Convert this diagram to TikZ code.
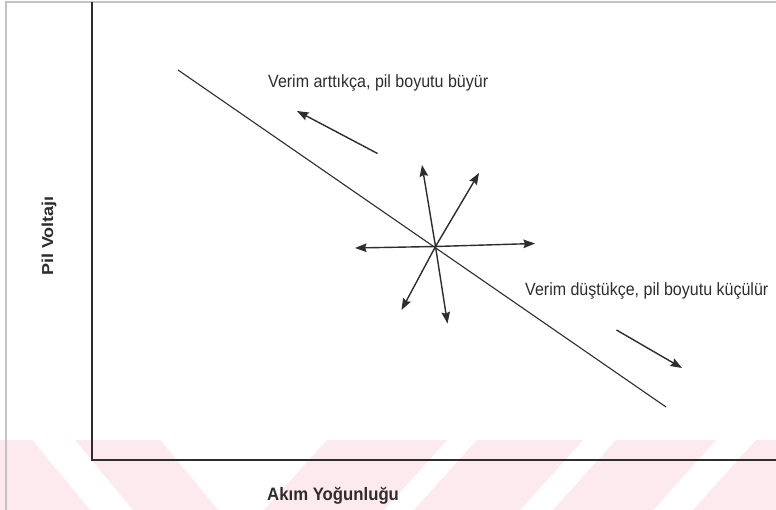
\documentclass[tikz,border=0pt]{standalone}
\usepackage{fontspec}
\setmainfont{Liberation Sans}
\usepackage{graphicx}
\usetikzlibrary{arrows.meta}
\definecolor{wmpink}{RGB}{253,234,238}
\definecolor{framegray}{RGB}{195,195,195}
\definecolor{ink}{RGB}{45,45,45}
\tikzset{
  wm/.style={fill=wmpink, draw=none},
  axisline/.style={draw=ink, line width=1.5pt},
  curveline/.style={draw=ink, line width=1.1pt},
  arr/.style={draw=ink, line width=1.4pt, -{Stealth[length=11.5pt,width=8.5pt,inset=1.5pt]}},
  lbl/.style={inner sep=0pt, anchor=base west, text=ink, font=\fontsize{17.7}{20}\selectfont},
  axlbl/.style={inner sep=0pt, text=ink, font=\bfseries\fontsize{18}{21}\selectfont}
}
\begin{document}
\begin{tikzpicture}[x=1pt,y=-1pt]
\useasboundingbox (0,0) rectangle (776,510);
\fill[white] (0,0) rectangle (776,510);
% watermark stripes
\path[wm] (0,440) -- (32,440) -- (90,510) -- (0,510) -- cycle;
\path[wm] (75,440) -- (160,440) -- (218,510) -- (133,510) -- cycle;
\path[wm] (327,440) -- (447,440) -- (384,510) -- (264,510) -- cycle;
\path[wm] (477,440) -- (583,440) -- (520,510) -- (414,510) -- cycle;
\path[wm] (616,440) -- (716,440) -- (653,510) -- (553,510) -- cycle;
\path[wm] (756,440) -- (776,440) -- (776,510) -- (693,510) -- cycle;
% outer frame
\coordinate (fbl) at (6,510);
\coordinate (ftl) at (6,2);
\coordinate (ftr) at (776,2);
\draw[framegray, line width=1.2pt] (fbl) -- (ftl) -- (ftr);
% axes
\coordinate (ytop) at (92,2);
\coordinate (orig) at (92,460);
\coordinate (xend) at (776,460);
\draw[axisline] (ytop) -- (orig) -- (xend);
% main line
\coordinate (ls) at (178,70);
\coordinate (le) at (666,407);
\draw[curveline] (ls) -- (le);
% star
\coordinate (c) at (435.5,246.5);
\coordinate (tL) at (355,248);
\coordinate (tR) at (535,243.5);
\coordinate (tU) at (422,165);
\coordinate (tUR) at (479,173);
\coordinate (tDL) at (401.5,310);
\coordinate (tD) at (447.5,323.5);
\foreach \t in {tL,tR,tU,tUR,tDL,tD} \draw[arr] (c) -- (\t);
% direction arrows
\coordinate (a1s) at (377.5,153.5);
\coordinate (a1e) at (297,111);
\draw[arr] (a1s) -- (a1e);
\coordinate (a2s) at (616.5,330);
\coordinate (a2e) at (682,368);
\draw[arr] (a2s) -- (a2e);
% labels
\node[lbl] (t1) at (268,88) {\scalebox{0.905}[1]{Verim arttıkça, pil boyutu büyür}};
\node[lbl] (t2) at (525,296) {\scalebox{0.905}[1]{Verim düştükçe, pil boyutu küçülür}};
\node[axlbl, anchor=base west] (xl) at (267,500) {\scalebox{0.93}[1]{Akım Yoğunluğu}};
\node[axlbl, anchor=base, rotate=90] (yl) at (53,236) {\scalebox{1}[0.88]{Pil Voltajı}};
\end{tikzpicture}
\end{document}
